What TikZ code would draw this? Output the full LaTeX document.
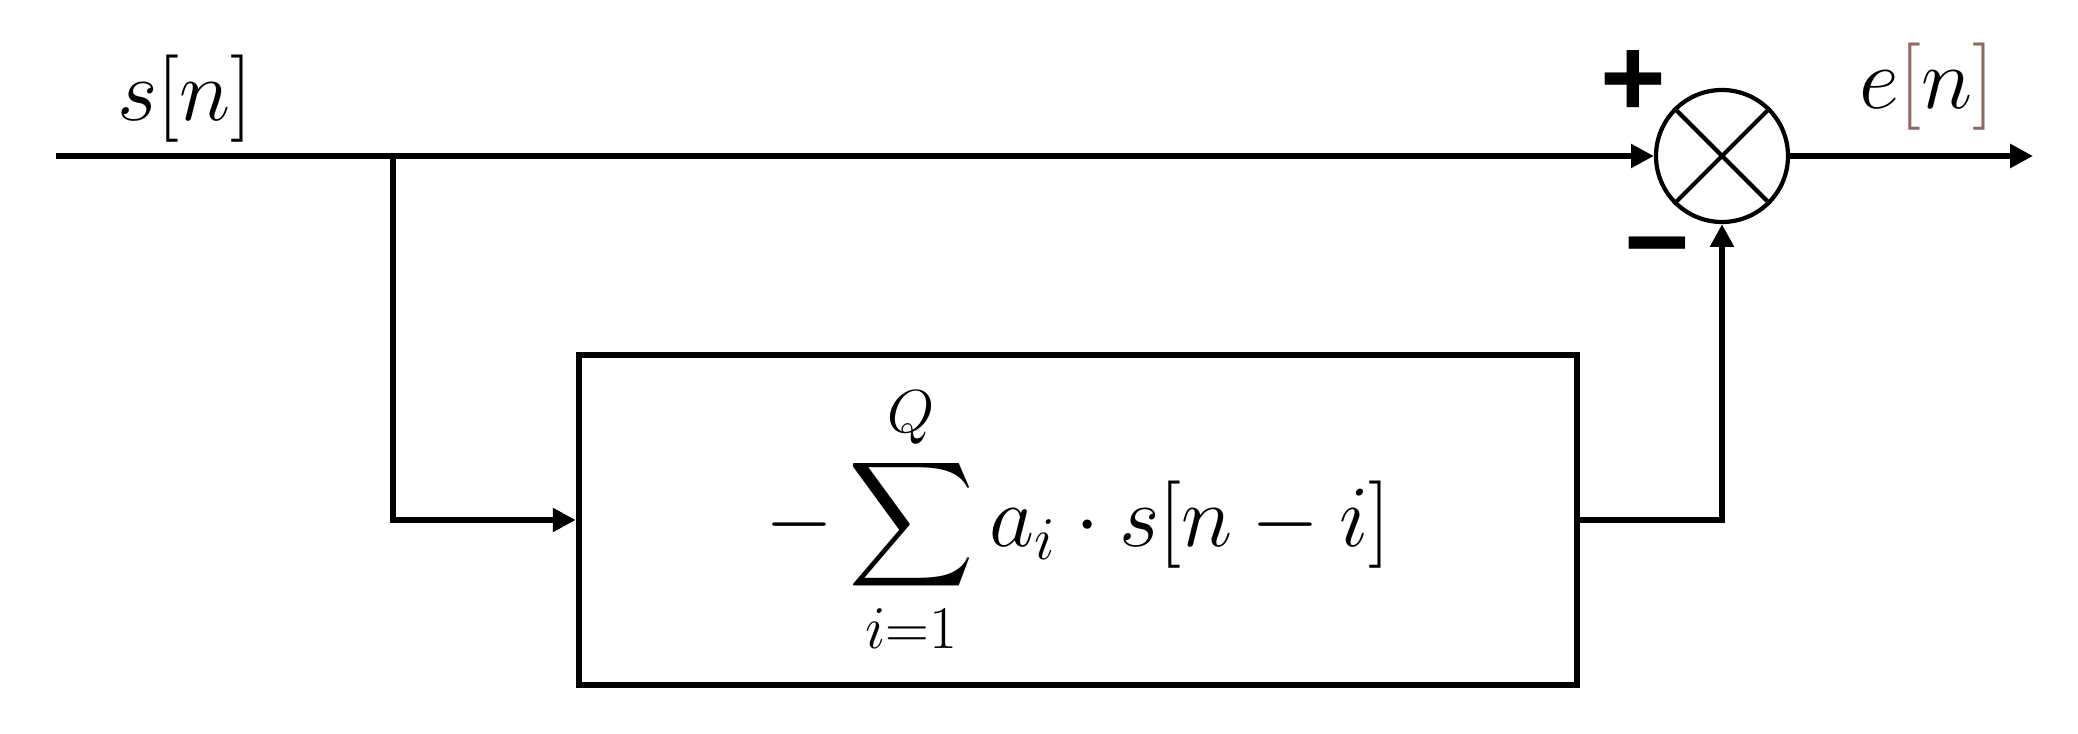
\documentclass[tikz,border=0pt]{standalone}
\usepackage{xcolor}
\usepackage{amsmath}
\usepackage{exscale}
\usepackage{fontspec}
\newfontfamily\signfont{Liberation Sans}
\definecolor{bracketbrown}{RGB}{145,105,100}
\usepackage{tikz}
\usetikzlibrary{calc,positioning,arrows.meta,shapes}
\tikzset{
    summer/.style={
    circle,draw=black,line width=1.2pt,minimum size=1.32cm,inner sep=0pt
    },
    filterbox/.style={
    rectangle,draw=black,line width=1.9pt,minimum width=9.98cm,minimum height=3.3cm,inner sep=0pt
    },
    sign/.style={font=\fontsize{32}{32}\selectfont\signfont\bfseries,inner sep=0pt},
  line/.style={draw, line width=1.7pt, ->},
}
\newcommand{\bigsum}{\mathop{\text{\fontsize{34}{34}\selectfont$\displaystyle\sum$}}\limits}

\begin{document}
\begin{tikzpicture}[>={Triangle[length=6.5pt,width=6.5pt]}, font=\fontsize{24}{28}\selectfont]
   \useasboundingbox (0,0) rectangle (20.78,-7.34);

   \coordinate (in)  at ( 0.56,-1.56);
   \coordinate (br)  at ( 3.93,-1.56);
   \coordinate (out) at (20.33,-1.56);

   \node[] (sn)   at ( 1.85,-0.99) {$s[n]$};
   \node[summer] (mix) at (17.22,-1.56) {};
   \node[] (en)   at (19.27,-0.87) {$e\textcolor{bracketbrown}{[}n\textcolor{bracketbrown}{]}$};
   \node[sign] (plus)  at (16.33,-0.84) {+};
   \node[sign] (minus) at (16.57,-2.59) {−};

   \node[filterbox] (pred) at (10.78,-5.20)
        {$\displaystyle -\bigsum_{i=1}^{Q} a_i\cdot s[n-i]$};

   % cross inside the summer
   \draw[line width=1.2pt] (mix.45) -- (mix.225) (mix.135) -- (mix.315);

  \path[line] (in) -- (mix.west);
  \path[line] (br) |- (pred.west);
  \path[line] (pred.east) -| (mix.south);
  \path[line] (mix.east) -- (out);
  \end{tikzpicture}
\end{document}
